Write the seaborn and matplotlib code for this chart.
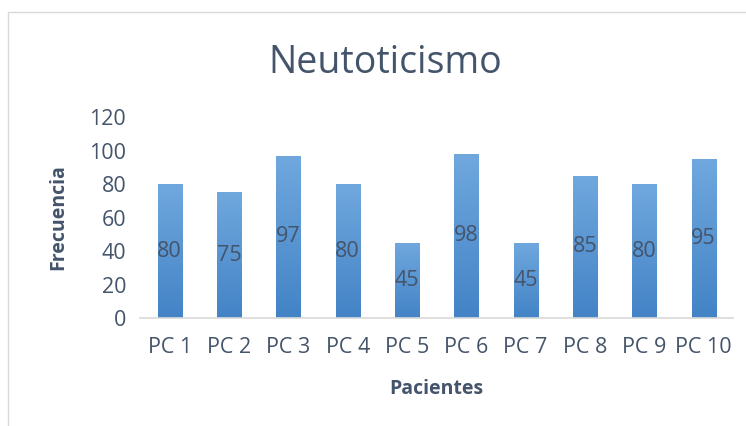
import matplotlib.pyplot as plt
import numpy as np
import pandas as pd
import seaborn as sns
from matplotlib.colors import LinearSegmentedColormap
from matplotlib.patches import Rectangle

pacientes = ['PC 1', 'PC 2', 'PC 3', 'PC 4', 'PC 5', 'PC 6', 'PC 7', 'PC 8', 'PC 9', 'PC 10']
frecuencia = [80, 75, 97, 80, 45, 98, 45, 85, 80, 95]
y_ticks = [0, 20, 40, 60, 80, 100, 120]

sns.set_style('white')
plt.rcParams['font.family'] = ['Open Sans', 'DejaVu Sans']
txt = '#44546A'

df = pd.DataFrame({'Pacientes': pacientes, 'Frecuencia': frecuencia})

fig = plt.figure(figsize=(7.46, 4.26), dpi=100)
ax = fig.add_axes([0.1877, 0.2535, 0.7953, 0.4718])

sns.barplot(data=df, x='Pacientes', y='Frecuencia', color='#5B9BD5', width=0.405,
            saturation=1, ax=ax)

# degradado vertical dentro de cada barra (estilo Excel)
cmap = LinearSegmentedColormap.from_list('grad', ['#4383C6', '#70A8DE'])
grad = np.linspace(0, 1, 256).reshape(-1, 1)
for bar in ax.patches:
    x0, y0 = bar.get_x(), bar.get_y()
    w, h = bar.get_width(), bar.get_height()
    im = ax.imshow(grad, cmap=cmap, origin='lower', aspect='auto',
                   extent=[x0, x0 + w, y0, y0 + h], zorder=bar.get_zorder() + 0.1)
    im.set_clip_path(bar)

ax.set_xlim(-0.5, len(pacientes) - 0.5)
ax.set_ylim(0, 120)
ax.set_yticks(y_ticks)

for i, v in enumerate(frecuencia):
    ax.text(i, v / 2, str(v), ha='center', va='center', fontsize=15.5, color=txt, zorder=5)

ax.tick_params(axis='both', length=0, labelsize=15.5, labelcolor=txt)
ax.tick_params(axis='x', pad=14)
ax.tick_params(axis='y', pad=10)
sns.despine(ax=ax, left=True)
ax.spines['bottom'].set_color('#D9D9D9')
ax.spines['bottom'].set_linewidth(1.2)

ax.set_xlabel('Pacientes', fontsize=14, fontweight='bold', color=txt, labelpad=15)
ax.set_ylabel('Frecuencia', fontsize=14, fontweight='bold', color=txt, labelpad=15)
fig.text(0.516, 0.852, 'Neutoticismo', ha='center', va='center', fontsize=27,
         color=txt)

# borde del área del gráfico
fig.patches.append(Rectangle((8 / 746, -0.1), 1.2, 1 - 12 / 426 + 0.1,
                             transform=fig.transFigure, fill=False,
                             edgecolor='#D9D9D9', linewidth=1))

plt.savefig('out.png', dpi=100)
